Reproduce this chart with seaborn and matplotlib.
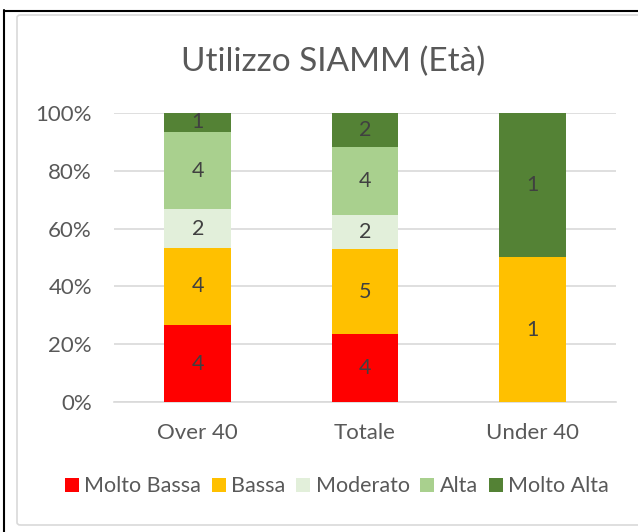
import numpy as np
import pandas as pd
import seaborn as sns
import matplotlib.pyplot as plt
from matplotlib.patches import Patch, FancyBboxPatch
from matplotlib.lines import Line2D
from matplotlib.ticker import PercentFormatter

# data (counts per group)
groups = ["Over 40", "Totale", "Under 40"]
levels = ["Molto Bassa", "Bassa", "Moderato", "Alta", "Molto Alta"]
molto_bassa = [4, 4, 0]
bassa = [4, 5, 1]
moderato = [2, 2, 0]
alta = [4, 4, 0]
molto_alta = [1, 2, 1]
colors = ["#FF0000", "#FFC000", "#E2EFDA", "#A9D08E", "#548235"]

counts = pd.DataFrame(
    np.array([molto_bassa, bassa, moderato, alta, molto_alta]).T,
    index=groups, columns=levels)
share = counts.div(counts.sum(axis=1), axis=0)
cum = share.cumsum(axis=1)

sns.set_theme(style="white")
plt.rcParams["font.family"] = ["Lato", "DejaVu Sans"]
txt = "#595959"

fig = plt.figure(figsize=(6.38, 5.32), dpi=100)
ax = fig.add_axes([0.179, 0.244, 0.786, 0.544])

# draw the stacks from the top layer down so lower layers cover upper ones
for lev, col in reversed(list(zip(levels, colors))):
    d = pd.DataFrame({"gruppo": groups, "val": cum[lev].values})
    sns.barplot(data=d, x="gruppo", y="val", color=col, saturation=1,
                width=0.4, ax=ax, linewidth=0, zorder=3)

# count labels in the middle of each segment
for i, g in enumerate(groups):
    bottom = 0
    for lev in levels:
        h = share.loc[g, lev]
        if counts.loc[g, lev] > 0:
            ax.text(i, bottom + h / 2, str(counts.loc[g, lev]), ha="center",
                    va="center", fontsize=15.5, color="#404040", zorder=4)
        bottom += h

ax.set_ylim(0, 1)
ax.set_xlim(-0.5, 2.5)
ax.set_yticks(np.arange(0, 1.01, 0.2))
ax.yaxis.set_major_formatter(PercentFormatter(1.0, decimals=0))
ax.yaxis.grid(True, color="#D9D9D9", linewidth=1.2, zorder=0)
ax.set_axisbelow(True)
for s in ["top", "right", "left"]:
    ax.spines[s].set_visible(False)
ax.spines["bottom"].set_color("#D9D9D9")
ax.spines["bottom"].set_linewidth(1.2)
ax.tick_params(axis="both", length=0, labelsize=16, labelcolor=txt)
ax.tick_params(axis="x", pad=15)
ax.tick_params(axis="y", pad=16)
ax.set_xlabel("")
ax.set_ylabel("")

fig.text(0.522, 0.883, "Utilizzo SIAMM (Età)", ha="center", va="center",
         fontsize=24, color=txt)

handles = [Patch(facecolor=c, edgecolor="none") for c in colors]
fig.legend(handles, levels, loc="center", bbox_to_anchor=(0.528, 0.086),
           ncol=5, frameon=False, fontsize=15.5, labelcolor=txt,
           handlelength=0.65, handleheight=0.65, handletextpad=0.25,
           columnspacing=0.5)

# outer frame like the screenshot
fig.add_artist(FancyBboxPatch((17 / 638, 7 / 532), 640 / 638, 510 / 532,
                              boxstyle="round,pad=0,rounding_size=0.005",
                              transform=fig.transFigure, fill=False,
                              edgecolor="#D9D9D9", linewidth=1.2))
fig.add_artist(Line2D([3.5 / 638, 3.5 / 638], [0, 1 - 10 / 532],
                      transform=fig.transFigure, color="black", linewidth=1.5))
fig.add_artist(Line2D([3.5 / 638, 1], [1 - 11 / 532, 1 - 11 / 532],
                      transform=fig.transFigure, color="black", linewidth=1.5))

fig.savefig("out.png", dpi=100, facecolor="white")
